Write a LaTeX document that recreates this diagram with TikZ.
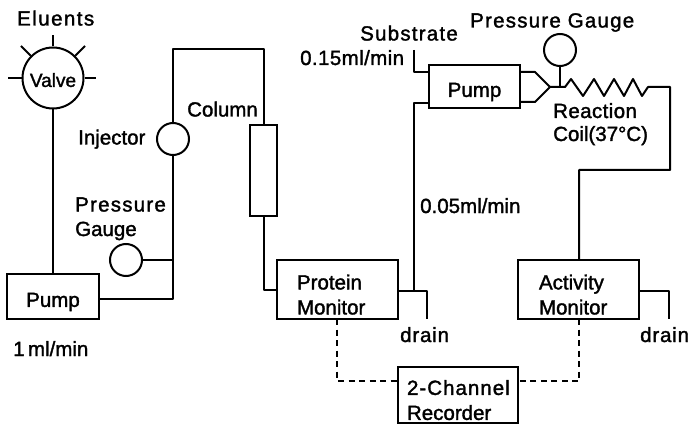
\documentclass[tikz,border=0pt]{standalone}
\usepackage{fontspec}
\setmainfont{Liberation Sans}[RawFeature={embolden=1.6}]
\newcommand{\espace}[1]{\addfontfeature{LetterSpace=#1}}
\begin{document}
\begin{tikzpicture}[x=1pt, y=-1pt]
	\tikzset{rond/.style={circle, draw=black, line width=2pt, inner sep=0pt, minimum size=32pt},
		boite/.style={rectangle, draw=black, line width=2pt, inner ysep=0pt, align=left, text height=25pt, font=\fontsize{20.5}{25}\selectfont},
		texte/.style={anchor=base west, inner sep=0pt, font=\fontsize{20.5}{25}\selectfont},
		tuyau/.style={line width=2pt, line join=round},
		signal/.style={line width=2pt, dash pattern=on 6pt off 4.5pt}};
	\useasboundingbox (0,0) rectangle (691,425);

	\node[rond, minimum size=61pt, text height=18pt, font=\fontsize{19}{22}\selectfont] (valve) at (53,78) {Valve};
	\node[rond] (injector) at (173,139) {};
	\node[rond] (gauge1) at (126,260) {};
	\node[rond] (gauge2) at (560,50) {};

	\node[boite, minimum width=92pt, minimum height=45pt, align=center] (pump1) at (53,296.5) {Pump};
	\node[boite, minimum width=27pt, minimum height=91pt] (column) at (263.5,170.5) {};
	\node[boite, minimum height=59pt, inner xsep=20pt, text width=81pt] (protein) at (337.5,289.5) {Protein\\Monitor};
	\node[boite, minimum width=91pt, minimum height=43pt, align=center] (pump2) at (474.5,86.5) {Pump};
	\node[boite, minimum height=59pt, inner xsep=21pt, text width=79pt] (activity) at (578.5,289.5) {Activity\\Monitor};
	\node[boite, minimum height=56pt, inner xsep=9pt, text width=102pt] (recorder) at (458,395) {{\espace{5}2-Channel}\\Recorder};

	\node[texte] (eluents) at (17,25.5) {\espace{7}Eluents};
	\node[texte] (colname) at (187,116.5) {Column};
	\node[texte] (injname) at (78,144.5) {Injector};
	\node[texte] (press1) at (75,211.5) {\espace{6}Pressure};
	\node[texte] (gauge1name) at (75,236) {Gauge};
	\node[texte] (rate1) at (13,356) {1\,ml/min};
	\node[texte] (drain1) at (400,342) {\espace{4}drain};
	\node[texte] (drain2) at (640,342) {\espace{4}drain};
	\node[texte] (substrate) at (360,40.5) {\espace{6}Substrate};
	\node[texte] (rate2) at (300,65) {\espace{2}0.15ml/min};
	\node[texte] (rate3) at (420,213) {0.05ml/min};
	\node[texte] (gauge2name) at (470,27.5) {\espace{6}Pressure Gauge};
	\node[texte] (reaction) at (553,118) {\espace{2}Reaction};
	\node[texte] (coil) at (553,141) {Coil(37\textdegree C)};

	% eluent spokes
	\coordinate (sp1) at (53,35);
	\coordinate (sp2) at (21,46);
	\coordinate (sp3) at (85,46);
	\coordinate (sp4) at (8,78);
	\coordinate (sp5) at (96,78);
	\draw[tuyau] (valve) -- (sp1);
	\draw[tuyau] (valve) -- (sp2);
	\draw[tuyau] (valve) -- (sp3);
	\draw[tuyau] (valve) -- (sp4);
	\draw[tuyau] (valve) -- (sp5);

	% first line
	\coordinate (p1out) at (pump1.east |- 0,299);
	\coordinate (j1) at (173,260);
	\coordinate (t1) at (173,49);
	\coordinate (t2) at (264,49);
	\coordinate (c1) at (264,290);
	\draw[tuyau] (valve) -- (valve |- pump1.north);
	\draw[tuyau] (p1out) -| (injector);
	\draw[tuyau] (gauge1) -- (j1);
	\draw[tuyau] (injector) -- (t1) -- (t2) -- (t2 |- column.north);
	\draw[tuyau] (t2 |- column.south) -- (c1) -- (c1 -| protein.west);

	% second line
	\coordinate (d1) at (427,291);
	\coordinate (d1end) at (427,319);
	\coordinate (j2) at (414,291);
	\coordinate (s1) at (414,50);
	\coordinate (s2) at (414,72);
	\coordinate (s3) at (414,103);
	\draw[tuyau] (protein.east |- d1) -- (d1) -- (d1end);
	\draw[tuyau] (j2) -- (s3) -- (s3 -| pump2.west);
	\draw[tuyau] (s1) -- (s2) -- (s2 -| pump2.west);

	% mixing point and coil
	\coordinate (m1) at (535,72);
	\coordinate (m2) at (535,102);
	\coordinate (mix) at (550,87);
	\coordinate (j3) at (560,87);
	\coordinate (r1) at (670,87);
	\coordinate (r2) at (670,170);
	\coordinate (r3) at (579,170);
	\draw[tuyau] (pump2.east |- m1) -- (m1) -- (mix) -- (m2) -- (pump2.east |- m2);
	\draw[tuyau] (gauge2) -- (j3);
	\draw[tuyau] (mix) -- (565,87) -- (571,79) -- (583,96) -- (594,79) -- (604,96) -- (614,79) -- (624,96) -- (633,79) -- (642,96) -- (648,87) -- (r1) -- (r2) -- (r3) -- (r3 |- activity.north);

	\coordinate (d2) at (669,291);
	\coordinate (d2end) at (669,319);
	\draw[tuyau] (activity.east |- d2) -- (d2) -- (d2end);

	% to the recorder
	\coordinate (rec) at (0,381);
	\draw[signal] (337,319) |- (rec -| recorder.west);
	\draw[signal] (579,319) |- (rec -| recorder.east);
\end{tikzpicture}
\end{document}
